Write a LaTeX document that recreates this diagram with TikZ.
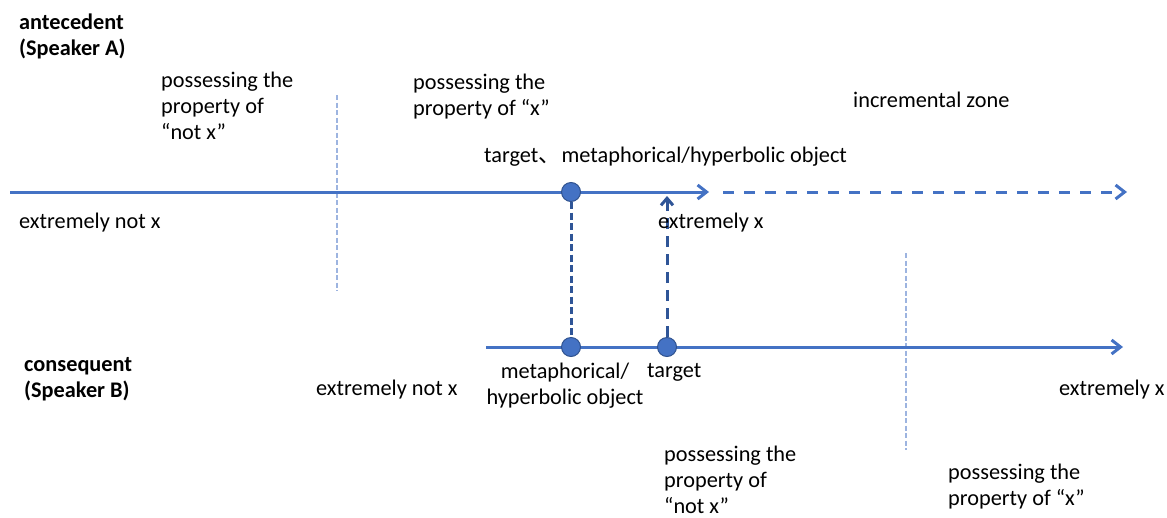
\documentclass[tikz,border=0pt]{standalone}
\usepackage{fontspec}
\setmainfont{Carlito}
\newfontfamily\cjk{Noto Sans CJK SC}
\usetikzlibrary{arrows.meta}
\definecolor{mainblue}{HTML}{4472C4}
\definecolor{darkblue}{HTML}{2F5597}
\definecolor{edgeblue}{HTML}{2F528F}
\definecolor{lightblue}{HTML}{9DB4E0}
\tikzset{
  lbl/.style={inner sep=0pt, font=\fontsize{22.3}{26}\selectfont, align=left, text=black},
  blbl/.style={lbl, font=\fontsize{22.3}{26}\selectfont\bfseries},
  axis/.style={draw=mainblue, line width=3pt, -{Straight Barb[length=9pt,width=14pt]}},
  dashaxis/.style={axis, dash pattern=on 11pt off 10pt},
  link/.style={draw=darkblue, line width=3pt, dash pattern=on 7pt off 3.5pt},
  linkarrow/.style={draw=darkblue, line width=3pt, dash pattern=on 11pt off 7pt, -{Straight Barb[length=7pt,width=12pt]}},
  divider/.style={draw=lightblue, line width=2pt, dash pattern=on 5pt off 2.5pt},
  dot/.style={circle, fill=mainblue, draw=edgeblue, line width=1pt, minimum size=19pt, inner sep=0pt}
}
\begin{document}
\begin{tikzpicture}[x=1pt, y=-1pt]
\useasboundingbox (0,0) rectangle (1167,517);
% coordinates
\coordinate (aStart) at (10,192);
\coordinate (aTip) at (709,192);
\coordinate (dStart) at (723,192);
\coordinate (dTip) at (1127,192);
\coordinate (bStart) at (486,347);
\coordinate (bTip) at (1123,347);
\coordinate (upTip) at (667,196);
\coordinate (divAtop) at (337,95);
\coordinate (divAbot) at (337,291);
\coordinate (divBtop) at (906,253);
\coordinate (divBbot) at (906,450);
% lines
\draw[divider] (divAtop) -- (divAbot);
\draw[divider] (divBtop) -- (divBbot);
\draw[axis] (aStart) -- (aTip);
\draw[dashaxis] (dStart) -- (dTip);
\draw[axis] (bStart) -- (bTip);
\node[dot] (topObj) at (571,192) {};
\node[dot] (botObj) at (571,347) {};
\node[dot] (botTgt) at (667,347) {};
\draw[link] (topObj.south) -- (botObj.north);
\draw[linkarrow] (botTgt.north) -- (upTip);
% labels
\node[blbl, anchor=north west] (ante) at (19,14) {antecedent\\(Speaker A)};
\node[blbl, anchor=north west] (cons) at (24,357) {consequent\\(Speaker B)};
\node[lbl, anchor=north west] (aNotX) at (161,72) {possessing the\\property of\\“not x”};
\node[lbl, anchor=north west] (aX) at (413,74) {possessing the\\property of “x”};
\node[lbl, anchor=north west] (incr) at (853,92) {incremental zone};
\node[lbl, anchor=north west] (tgtA) at (484,147) {target{\cjk 、}\hspace{-4pt} metaphorical/hyperbolic object};
\node[lbl, anchor=north west] (aExNot) at (19,213) {extremely not x};
\node[lbl, anchor=north west] (aEx) at (658,213) {extremely x};
\node[lbl, anchor=north, align=center] (metB) at (565,363) {metaphorical/\\hyperbolic object};
\node[lbl, anchor=north west] (tgtB) at (647,363) {target};
\node[lbl, anchor=north west] (bExNot) at (316,380) {extremely not x};
\node[lbl, anchor=north west] (bEx) at (1059,380) {extremely x};
\node[lbl, anchor=north west] (bNotX) at (664,446) {possessing the\\property of\\“not x”};
\node[lbl, anchor=north west] (bX) at (948,464) {possessing the\\property of “x”};
\end{tikzpicture}
\end{document}
